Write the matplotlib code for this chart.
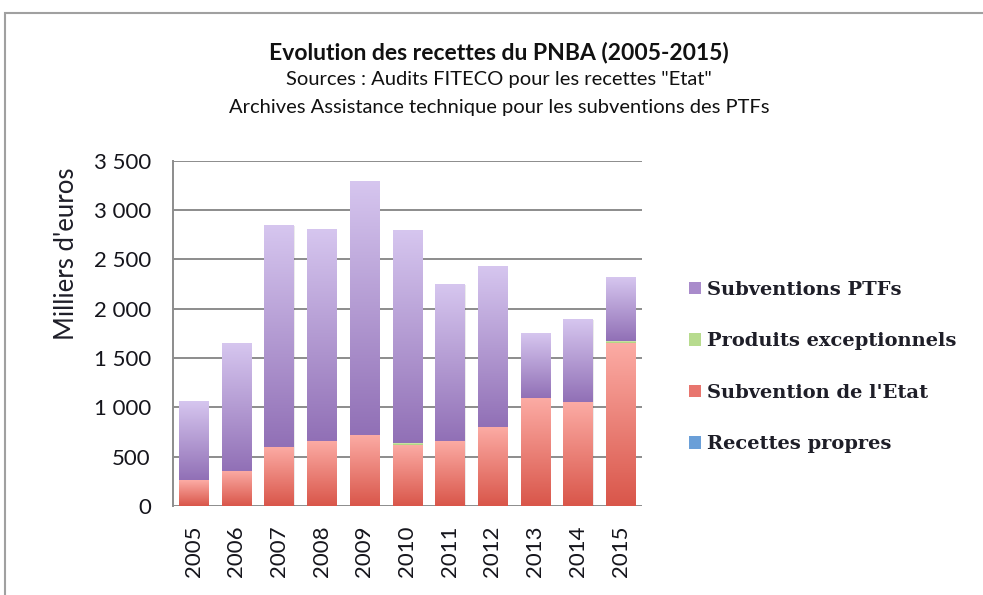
import numpy as np
import matplotlib
matplotlib.use('Agg')
import matplotlib.pyplot as plt
from matplotlib.colors import LinearSegmentedColormap
from matplotlib.patches import Rectangle, Patch

# data (milliers d'euros)
years = ['2005', '2006', '2007', '2008', '2009', '2010', '2011', '2012', '2013', '2014', '2015']
recettes_propres = [0, 0, 0, 0, 0, 0, 0, 0, 0, 0, 0]
subv_etat = [260, 358, 598, 659, 720, 622, 659, 801, 1098, 1057, 1655]
produits_exc = [0, 0, 0, 0, 0, 15, 0, 0, 0, 0, 15]
subv_ptf = [797, 1297, 2247, 2148, 2567, 2150, 1591, 1628, 655, 835, 641]

serif = 'DejaVu Serif'
sans = 'Lato'
txt = '#1e1e28'

fig = plt.figure(figsize=(9.83, 5.95), dpi=100)
fig.patches.append(Rectangle((0.005, -0.1), 1.2, 1.078, transform=fig.transFigure,
                             fill=False, edgecolor='#a0a0a0', lw=1.5))

ax = fig.add_axes([0.176, 0.1496, 0.477, 0.5804])

x = np.arange(len(years))
w = 0.68

# gradient (top light, bottom dark) for each series
grads = {
    'ptf': LinearSegmentedColormap.from_list('ptf', ['#9170b6', '#d6c6ef']),
    'etat': LinearSegmentedColormap.from_list('etat', ['#d9564a', '#fcaca5']),
    'exc': LinearSegmentedColormap.from_list('exc', ['#a8cf78', '#d4eab0']),
    'prop': LinearSegmentedColormap.from_list('prop', ['#4f86c6', '#a9c8ec']),
}

bottom = np.zeros(len(years))
series = [(recettes_propres, 'prop'), (subv_etat, 'etat'), (produits_exc, 'exc'), (subv_ptf, 'ptf')]
grad = np.linspace(0, 1, 256).reshape(-1, 1)
for vals, key in series:
    bars = ax.bar(x, vals, w, bottom=bottom, facecolor='none', edgecolor='none', zorder=3)
    for b in bars:
        if b.get_height() <= 0:
            continue
        x0, y0 = b.get_x(), b.get_y()
        # soft shadow
        ax.add_patch(Rectangle((x0 + 0.03, y0 - 8), b.get_width(), b.get_height(),
                               facecolor='#000000', alpha=0.08, edgecolor='none', zorder=2))
        ax.imshow(grad, cmap=grads[key], origin='lower', aspect='auto',
                  extent=(x0, x0 + b.get_width(), y0, y0 + b.get_height()), zorder=3)
    bottom += np.array(vals)

ax.set_xlim(-0.48, 10.5)
ax.set_ylim(0, 3500)
ax.set_yticks(np.arange(0, 3501, 500))
ax.set_yticklabels([f'{v:,}'.replace(',', ' ') for v in range(0, 3501, 500)],
                   fontfamily=sans, fontsize=16, color='#15151c')
ax.set_xticks(x)
ax.set_xticklabels(years, rotation=90, fontfamily=sans, fontsize=16, color='#15151c')
ax.tick_params(length=0)
ax.tick_params(axis='y', pad=16)
ax.tick_params(axis='x', pad=14)
ax.yaxis.grid(True, color='#8c8c8c', lw=1.4, zorder=1)
ax.set_axisbelow(True)
for s in ['top', 'right', 'bottom']:
    ax.spines[s].set_visible(False)
ax.spines['left'].set_color('#8c8c8c')
ax.spines['left'].set_linewidth(1.4)

fig.text(0.068, 0.574, "Milliers d'euros", rotation=90, ha='center', va='center',
         fontfamily=sans, fontsize=18.5, color=txt)

fig.text(0.508, 0.912, 'Evolution des recettes du PNBA (2005-2015)', ha='center', va='center',
         fontfamily=sans, fontsize=16.5, fontweight='bold', color='#111111')
fig.text(0.508, 0.866, 'Sources : Audits FITECO pour les recettes "Etat"', ha='center', va='center',
         fontfamily=sans, fontsize=14.5, color='#111111')
fig.text(0.508, 0.820, 'Archives Assistance technique pour les subventions des PTFs', ha='center',
         va='center', fontfamily=sans, fontsize=14.5, color='#111111')

handles = [Patch(facecolor='#a98bcb', edgecolor='none', label='Subventions PTFs'),
           Patch(facecolor='#b7db8e', edgecolor='none', label='Produits exceptionnels'),
           Patch(facecolor='#e8756e', edgecolor='none', label="Subvention de l'Etat"),
           Patch(facecolor='#6a9fd8', edgecolor='none', label='Recettes propres')]
fig.legend(handles=handles, loc='center left', bbox_to_anchor=(0.683, 0.383), frameon=False,
           prop={'family': serif, 'size': 14, 'weight': 'bold'}, labelspacing=1.72,
           handlelength=0.6, handleheight=0.6, handletextpad=0.35, labelcolor=txt)

fig.savefig('out.png', dpi=100)
